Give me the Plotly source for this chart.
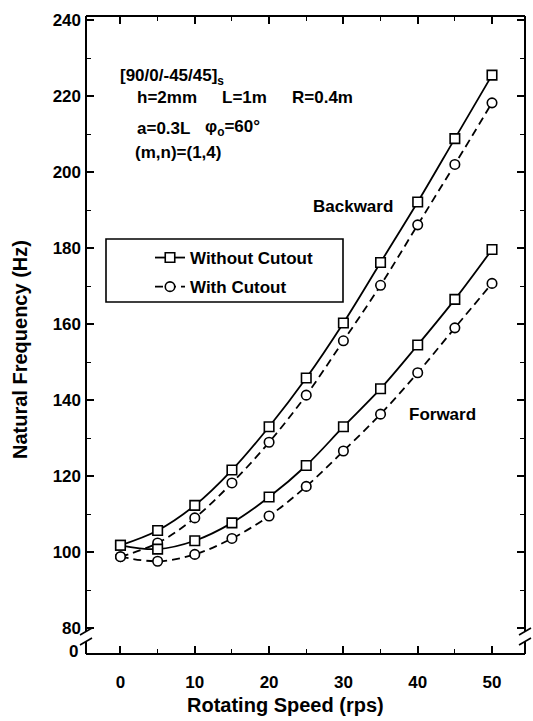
import plotly.graph_objects as go

# Rotating speed (rps)
speed = [0, 5, 10, 15, 20, 25, 30, 35, 40, 45, 50]

# Natural frequency (Hz), mode (m,n)=(1,4)
backward_without = [101.8, 105.7, 112.3, 121.6, 133.0, 145.8, 160.3, 176.2, 192.1, 208.8, 225.5]
backward_with = [98.8, 102.4, 109.0, 118.2, 128.9, 141.3, 155.6, 170.2, 186.1, 202.0, 218.2]
forward_without = [101.8, 100.8, 103.0, 107.7, 114.5, 122.8, 133.0, 143.0, 154.5, 166.5, 179.6]
forward_with = [98.8, 97.6, 99.4, 103.6, 109.5, 117.3, 126.6, 136.3, 147.2, 159.0, 170.7]

x_ticks = [0, 10, 20, 30, 40, 50]
y_ticks = [80, 100, 120, 140, 160, 180, 200, 220, 240]

FONT = "Arial, Liberation Sans, sans-serif"
W, H = 533, 721
L, R, T, B = 86, 525, 16, 654  # plot area edges in pixels


def px_x(p):
    return (p - L) / (R - L)


def px_y(p):
    return (B - p) / (B - T)


fig = go.Figure()

solid = dict(color="black", width=1.8)
dashed = dict(color="black", width=1.8, dash="8px,5px")
sq = dict(symbol="square", size=9.5, color="white", line=dict(color="black", width=1.6))
ci = dict(symbol="circle", size=9.5, color="white", line=dict(color="black", width=1.6))

fig.add_trace(go.Scatter(x=speed, y=backward_without, mode="lines+markers",
                         line=dict(shape="spline", **solid), marker=sq,
                         name="Without Cutout", legendgroup="a"))
fig.add_trace(go.Scatter(x=speed, y=backward_with, mode="lines+markers",
                         line=dict(shape="spline", **dashed), marker=ci,
                         name="With Cutout", legendgroup="b"))
fig.add_trace(go.Scatter(x=speed, y=forward_without, mode="lines+markers",
                         line=dict(shape="spline", **solid), marker=sq,
                         name="Without Cutout", legendgroup="a", showlegend=False))
fig.add_trace(go.Scatter(x=speed, y=forward_with, mode="lines+markers",
                         line=dict(shape="spline", **dashed), marker=ci,
                         name="With Cutout", legendgroup="b", showlegend=False))

# Frame with axis breaks near the bottom of both vertical sides
frame = dict(type="line", xref="paper", yref="paper", line=dict(color="black", width=2), layer="above")
shapes = [
    dict(frame, x0=0, x1=1, y0=1, y1=1),
    dict(frame, x0=0, x1=1, y0=0, y1=0),
    dict(frame, x0=0, x1=0, y0=px_y(631), y1=1),
    dict(frame, x0=0, x1=0, y0=0, y1=px_y(642)),
    dict(frame, x0=1, x1=1, y0=px_y(631), y1=1),
    dict(frame, x0=1, x1=1, y0=0, y1=px_y(642)),
]
for cx in (L, R):
    for cy in (631.5, 641.5):
        shapes.append(dict(frame, x0=px_x(cx - 6), y0=px_y(cy + 3.5),
                           x1=px_x(cx + 6), y1=px_y(cy - 3.5), line=dict(color="black", width=1.6)))
# Legend box
shapes.append(dict(type="rect", xref="paper", yref="paper",
                   x0=px_x(106), x1=px_x(343), y0=px_y(302), y1=px_y(239),
                   line=dict(color="black", width=1.6), fillcolor="rgba(0,0,0,0)"))

txt = dict(xref="paper", yref="paper", showarrow=False, xanchor="left", yanchor="middle",
           font=dict(family=FONT, size=17, color="black", weight="bold"))
annotations = [
    dict(txt, x=px_x(118), y=px_y(77), text="[90/0/-45/45]<sub>s</sub>"),
    dict(txt, x=px_x(135), y=px_y(97), text="h=2mm"),
    dict(txt, x=px_x(220), y=px_y(97), text="L=1m"),
    dict(txt, x=px_x(290), y=px_y(97), text="R=0.4m"),
    dict(txt, x=px_x(135), y=px_y(128), text="a=0.3L"),
    dict(txt, x=px_x(203), y=px_y(128), text="φ<sub>o</sub>=60°"),
    dict(txt, x=px_x(133), y=px_y(153), text="(m,n)=(1,4)"),
    dict(txt, x=px_x(353), y=px_y(206), text="Backward", xanchor="center"),
    dict(txt, x=px_x(442), y=px_y(414), text="Forward", xanchor="center"),
    dict(txt, x=px_x(80), y=px_y(651), text="0", xanchor="right"),
    dict(txt, x=px_x(285), y=px_y(705), text="Rotating Speed (rps)", xanchor="center",
         font=dict(family=FONT, size=20, color="black", weight="bold")),
    dict(txt, x=px_x(20), y=px_y(350), text="Natural Frequency (Hz)", xanchor="center",
         textangle=-90, font=dict(family=FONT, size=20, color="black", weight="bold")),
]

fig.update_layout(
    width=W, height=H,
    margin=dict(l=L, r=W - R, t=T, b=H - B, pad=0),
    paper_bgcolor="white", plot_bgcolor="white",
    font=dict(family=FONT, size=17, color="black", weight="bold"),
    shapes=shapes, annotations=annotations,
    showlegend=True,
    legend=dict(x=px_x(150), y=px_y(240), xanchor="left", yanchor="top",
                bgcolor="rgba(0,0,0,0)", borderwidth=0, tracegroupgap=4,
                font=dict(family=FONT, size=17, color="black", weight="bold")),
)

fig.update_xaxes(range=[-4.64, 54.44], tickmode="array", tickvals=x_ticks,
                 ticks="inside", ticklen=8, tickwidth=1.6, tickcolor="black",
                 mirror="ticks", showline=False, showgrid=False, zeroline=False,
                 ticklabelstandoff=16,
                 minor=dict(dtick=5, tick0=0, ticks="inside", ticklen=5, tickwidth=1.4,
                            tickcolor="black", showgrid=False))
fig.update_yaxes(range=[73.2, 241.05], tickmode="array", tickvals=y_ticks,
                 ticks="inside", ticklen=8, tickwidth=1.6, tickcolor="black",
                 mirror="ticks", showline=False, showgrid=False, zeroline=False,
                 ticklabelstandoff=4,
                 minor=dict(dtick=10, tick0=0, ticks="inside", ticklen=5, tickwidth=1.4,
                            tickcolor="black", showgrid=False))

fig.write_html("out.html")
